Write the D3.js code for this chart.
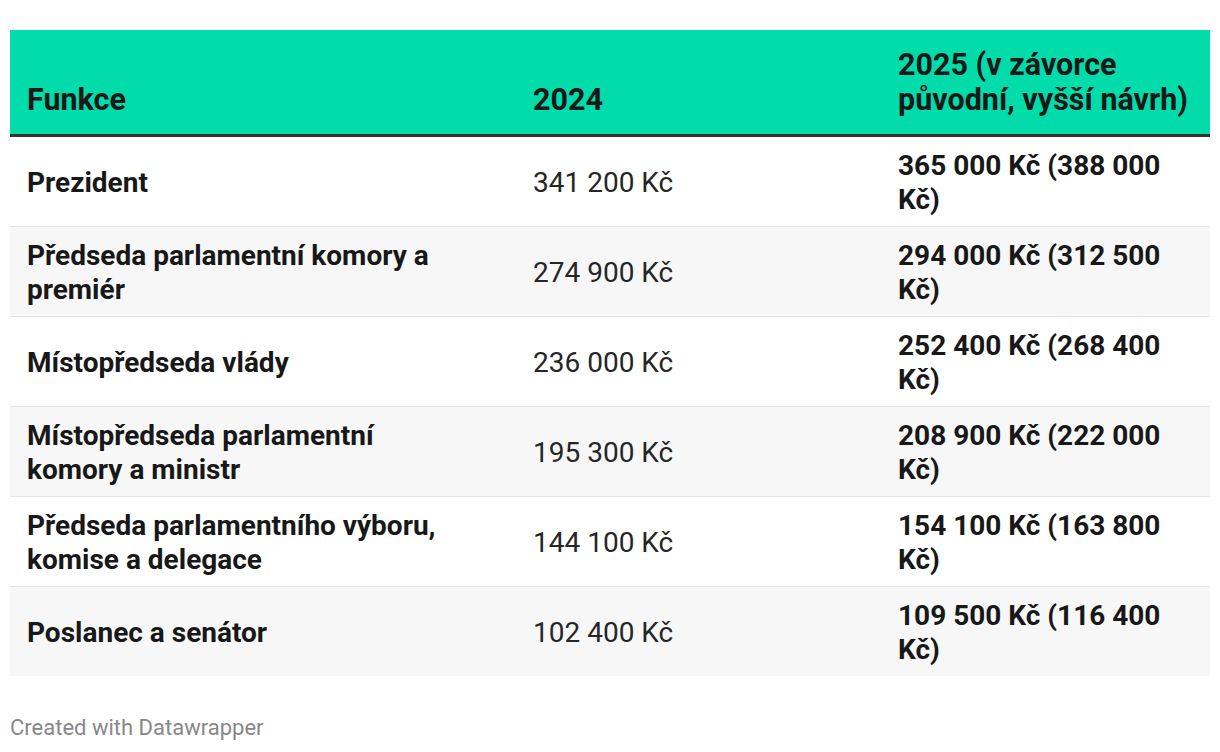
<!DOCTYPE html>
<html>
<head>
<meta charset="utf-8">
<script src="https://cdn.jsdelivr.net/npm/d3@7"></script>
<style>
  html, body { margin: 0; padding: 0; background: #fff; }
  body { width: 1220px; height: 752px; position: relative; font-family: Roboto, "Noto Sans", sans-serif; color: #1d1d1d; }
  #tbl { position: absolute; left: 10px; top: 30px; width: 1200px; border-collapse: collapse; table-layout: fixed; }
  #tbl th { background: #01dcaa; font-weight: 700; font-size: 30.5px; line-height: 35px; text-align: left; vertical-align: bottom; padding: 0 17px 17px 17px; height: 87px; border-bottom: 3px solid #333; color: #181818; }
  #tbl td { font-size: 28px; line-height: 34px; padding: 2px 17px 0 17px; height: 87px; vertical-align: middle; border-bottom: 1px solid #e6e6e6; }
  #tbl tr:last-child td { border-bottom: none; }
  #tbl tbody tr:nth-child(even) td { background: #f7f7f7; }
  #tbl td.c0 { padding-right: 70px; }
  td.c0, td.c2 { font-weight: 700; color: #181818; }
  td.c1 { font-weight: 400; color: #262626; }
  #foot { position: absolute; left: 10px; top: 715px; font-size: 22px; color: #888; }
</style>
</head>
<body>
<table id="tbl"><colgroup></colgroup><thead><tr></tr></thead><tbody></tbody></table>
<div id="foot"></div>
<script>
const headers = ["Funkce", "2024", "2025 (v závorce původní, vyšší návrh)"];
const functions = [
  "Prezident",
  "Předseda parlamentní komory a premiér",
  "Místopředseda vlády",
  "Místopředseda parlamentní komory a ministr",
  "Předseda parlamentního výboru, komise a delegace",
  "Poslanec a senátor"
];
const salary2024 = [341200, 274900, 236000, 195300, 144100, 102400];
const salary2025 = [365000, 294000, 252400, 208900, 154100, 109500];
const salary2025Original = [388000, 312500, 268400, 222000, 163800, 116400];
const footer = "Created with Datawrapper";

const colWidths = [506, 365, 329];

const fmtNb = v => d3.format(",")(v).replace(/,/g, " ") + " Kč";

const tbl = d3.select("#tbl");
tbl.select("colgroup").selectAll("col").data(colWidths).join("col").style("width", d => d + "px");
tbl.select("thead tr").selectAll("th").data(headers).join("th").text(d => d);

const rows = functions.map((f, i) => [f, fmtNb(salary2024[i]), fmtNb(salary2025[i]) + " (" + fmtNb(salary2025Original[i]) + ")"]);
tbl.select("tbody").selectAll("tr").data(rows).join("tr")
  .selectAll("td").data(d => d).join("td")
  .attr("class", (d, i) => "c" + i)
  .text(d => d);

d3.select("#foot").text(footer);
</script>
</body>
</html>
